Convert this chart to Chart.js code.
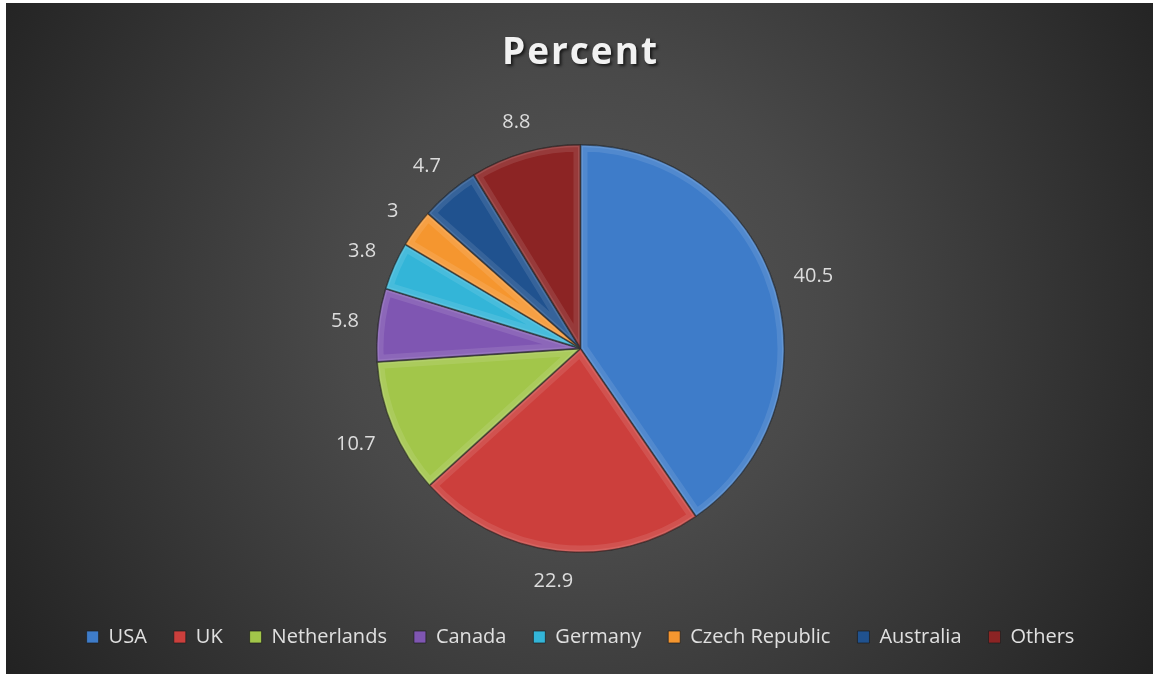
<!DOCTYPE html>
<html><head><meta charset="utf-8">
<script src="https://cdn.jsdelivr.net/npm/chart.js@4.4.1/dist/chart.umd.min.js"></script>
<style>
html,body{margin:0;padding:0;background:#fff;}
#wrap{position:absolute;left:6px;top:3px;width:1147px;height:671px;}
</style></head><body>
<div id="wrap"><canvas id="c"></canvas></div>
<script>
const chartTitle = 'Percent';
const categories = ['USA','UK','Netherlands','Canada','Germany','Czech Republic','Australia','Others'];
const percentValues = [40.5, 22.9, 10.7, 5.8, 3.8, 3, 4.7, 8.8];
const sliceColors = ['#3e7cc9','#cc3f3c','#a2c64a','#7f56b2','#33b5d8','#f5962f','#20528f','#8c2424'];

const bgPlugin = {
  id: 'bg',
  beforeDraw(chart) {
    const {ctx, width, height} = chart;
    const cx = width * 0.5, cy = height * 0.46;
    const g = ctx.createRadialGradient(cx, cy, 0, cx, cy, 690);
    g.addColorStop(0, '#575757');
    g.addColorStop(0.35, '#494949');
    g.addColorStop(1, '#212121');
    ctx.save();
    ctx.fillStyle = g;
    ctx.fillRect(0, 0, width, height);
    ctx.restore();
  }
};

const titlePlugin = {
  id: 'ptitle',
  afterDraw(chart) {
    const ctx = chart.ctx;
    ctx.save();
    ctx.font = 'bold 37px "Open Sans"';
    if ('letterSpacing' in ctx) ctx.letterSpacing = '2px';
    ctx.textAlign = 'center';
    ctx.textBaseline = 'middle';
    ctx.shadowColor = 'rgba(0,0,0,0.65)';
    ctx.shadowOffsetX = 2;
    ctx.shadowOffsetY = 2;
    ctx.shadowBlur = 3;
    ctx.fillStyle = '#f2f2f2';
    ctx.fillText(chartTitle, chart.width / 2 + 1, 50);
    ctx.restore();
  }
};

const bevelPlugin = {
  id: 'bevel',
  afterDatasetsDraw(chart) {
    const ctx = chart.ctx;
    const meta = chart.getDatasetMeta(0);
    meta.data.forEach((arc) => {
      const p = arc.getProps(['x','y','startAngle','endAngle','outerRadius'], true);
      ctx.save();
      ctx.beginPath();
      ctx.moveTo(p.x, p.y);
      ctx.arc(p.x, p.y, p.outerRadius, p.startAngle, p.endAngle);
      ctx.closePath();
      ctx.clip();
      ctx.lineJoin = 'miter';
      ctx.lineWidth = 14;
      ctx.strokeStyle = 'rgba(255,255,255,0.10)';
      ctx.stroke();
      ctx.lineWidth = 5;
      ctx.strokeStyle = 'rgba(255,255,255,0.10)';
      ctx.stroke();
      ctx.lineWidth = 2;
      ctx.strokeStyle = 'rgba(0,0,0,0.4)';
      ctx.stroke();
      ctx.restore();
    });
  }
};

const labelPlugin = {
  id: 'vlabels',
  afterDatasetsDraw(chart) {
    const ctx = chart.ctx;
    const meta = chart.getDatasetMeta(0);
    const vals = chart.data.datasets[0].data;
    ctx.save();
    ctx.font = '20px "Open Sans"';
    ctx.fillStyle = '#dcdcdc';
    ctx.textAlign = 'center';
    ctx.textBaseline = 'middle';
    meta.data.forEach((arc, i) => {
      const p = arc.getProps(['x','y','startAngle','endAngle','outerRadius'], true);
      const a = (p.startAngle + p.endAngle) / 2;
      const txt = String(vals[i]);
      const w = ctx.measureText(txt).width;
      const c = Math.cos(a), s = Math.sin(a);
      const d = p.outerRadius + 18 + Math.abs(c) * w / 2 + Math.abs(s) * 10;
      ctx.fillText(txt, p.x + c * d, p.y + s * d);
    });
    ctx.restore();
  }
};

new Chart(document.getElementById('c'), {
  type: 'pie',
  data: {
    labels: categories,
    datasets: [{
      data: percentValues,
      backgroundColor: sliceColors,
      borderColor: 'rgba(30,30,30,0.7)',
      borderWidth: 1
    }]
  },
  options: {
    responsive: true,
    maintainAspectRatio: false,
    animation: false,
    radius: 204,
    layout: { padding: { top: 94, left: 2, right: 0, bottom: 17 } },
    plugins: {
      title: { display: false },
      tooltip: { enabled: false },
      legend: {
        position: 'bottom',
        labels: {
          color: '#e0e0e0',
          font: { family: 'Open Sans', size: 20 },
          boxWidth: 12,
          boxHeight: 12,
          padding: 27
        }
      }
    }
  },
  plugins: [bgPlugin, bevelPlugin, labelPlugin, titlePlugin]
});
</script>
</body></html>
